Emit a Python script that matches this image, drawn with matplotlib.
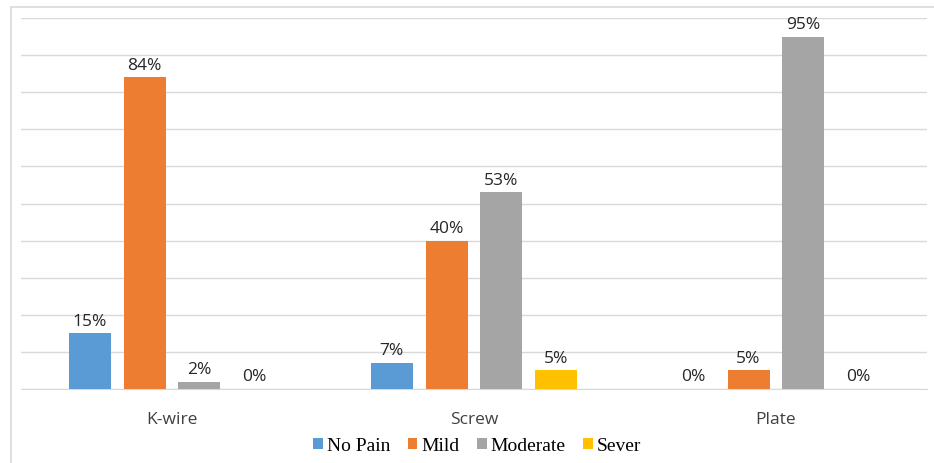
import numpy as np
import matplotlib.pyplot as plt
from matplotlib.patches import Rectangle

# Pain level by fixation method (% of patients)
categories = ['K-wire', 'Screw', 'Plate']
series_names = ['No Pain', 'Mild', 'Moderate', 'Sever']
no_pain = [15, 7, 0]
mild = [84, 40, 5]
moderate = [2, 53, 95]
sever = [0, 5, 0]
colors = ['#5B9BD5', '#ED7D31', '#A5A5A5', '#FFC000']

W, H = 934, 464
fig = plt.figure(figsize=(W / 100, H / 100), dpi=100)
ax = fig.add_axes([21 / W, (H - 390) / H, 906 / W, 371 / H])

# light frame around the chart area
fig.patches.append(Rectangle((11 / W, -0.1), 0.2 + (W - 11) / W, 1.1 - 8 / H,
                             transform=fig.transFigure, fill=False,
                             edgecolor='#d9d9d9', linewidth=1.2))

x = np.arange(len(categories))
width = 0.139
step = 0.182
data = [no_pain, mild, moderate, sever]

for i, (name, vals) in enumerate(zip(series_names, data)):
    pos = x + (i - 1.5) * step
    ax.bar(pos, vals, width, color=colors[i], label=name, zorder=3)
    for px, v in zip(pos, vals):
        ax.text(px, v + 1.3, f'{v}%', ha='center', va='bottom',
                fontsize=12.5, color='#262626', family='Open Sans')

ax.set_xlim(-0.5, 2.5)
ax.set_ylim(0, 100)
ax.set_yticks(np.arange(0, 101, 10))
ax.yaxis.grid(True, color='#d9d9d9', linewidth=1, zorder=0)
ax.tick_params(axis='y', left=False, labelleft=False)
ax.tick_params(axis='x', bottom=False, pad=12)
ax.set_xticks(x)
ax.set_xticklabels(categories, fontsize=12.5, color='#404040', family='Open Sans')
for s in ['top', 'right', 'left']:
    ax.spines[s].set_visible(False)
ax.spines['bottom'].set_color('#d9d9d9')

fig.legend(loc='center', bbox_to_anchor=(477 / W, (H - 447) / H), ncol=4,
           frameon=False, handlelength=0.5, handleheight=0.5,
           handletextpad=0.2, columnspacing=0.9,
           prop={'family': 'Liberation Serif', 'size': 14})

fig.savefig('out.png', dpi=100)
